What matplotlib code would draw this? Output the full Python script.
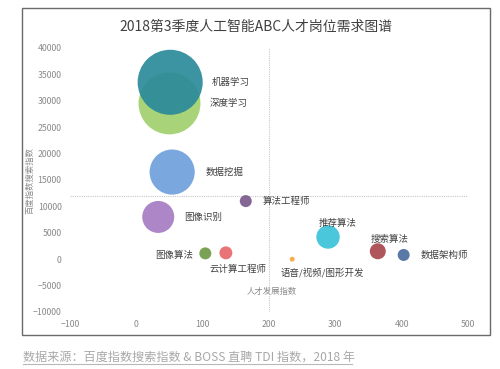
import numpy as np
import matplotlib.pyplot as plt
from matplotlib.patches import Rectangle
from matplotlib.lines import Line2D

plt.rcParams['font.family'] = ['Noto Sans CJK SC', 'DejaVu Sans']

# data
jobs = ["机器学习", "深度学习", "数据挖掘", "图像识别", "算法工程师", "图像算法",
        "云计算工程师", "推荐算法", "搜索算法", "数据架构师", "语音/视频/图形开发"]
talent_idx = [51, 50, 54, 33, 165, 104, 135, 289, 364, 403, 235]
search_idx = [33500, 29500, 16500, 8000, 11000, 1100, 1200, 4200, 1500, 800, 0]
bubble_size = [1060, 960, 510, 256, 36, 36, 42, 137, 64, 36, 6]
colors = ["#2b8a99", "#a2d06c", "#6fa0da", "#a67cc4", "#7a5a8c", "#6f9a47",
          "#e8686b", "#3cc3d8", "#a8474e", "#4d6ea0", "#f5a73a"]
draw_order = [1, 0, 2, 3, 4, 5, 6, 7, 8, 9, 10]

xticks = [-100, 0, 100, 200, 300, 400, 500]
yticks = [-10000, -5000, 0, 5000, 10000, 15000, 20000, 25000, 30000, 35000, 40000]
x_cross = 200
y_cross = 12000

fig = plt.figure(figsize=(5, 3.69), dpi=100)
ax = fig.add_axes([0.14, 0.1545, 0.796, 0.7155])

for i in draw_order:
    ax.scatter(talent_idx[i], search_idx[i], s=bubble_size[i] * 2.07,
               color=colors[i], alpha=0.92, edgecolors="none", zorder=3)

# crossing axes drawn as dotted lines
ax.plot([x_cross, x_cross], [yticks[0], yticks[-1]], ls=(0, (1, 1)), color="#c8c8c8", lw=0.8, zorder=1)
ax.plot([xticks[0], xticks[-1]], [y_cross, y_cross], ls=(0, (1, 1)), color="#c8c8c8", lw=0.8, zorder=1)

ax.set_xlim(xticks[0], xticks[-1])
ax.set_ylim(yticks[0], yticks[-1])
ax.set_xticks(xticks)
ax.set_yticks(yticks)
ax.tick_params(length=0, labelsize=6.3, labelcolor="#8a8a8a", pad=6)
for s in ax.spines.values():
    s.set_visible(False)

# bubble labels
lab = dict(fontsize=6.8, color="#404040", va="center", zorder=4)
ax.text(114, 33500, jobs[0], ha="left", **lab)
ax.text(111, 29500, jobs[1], ha="left", **lab)
ax.text(104, 16500, jobs[2], ha="left", **lab)
ax.text(72, 8000, jobs[3], ha="left", **lab)
ax.text(191, 11000, jobs[4], ha="left", **lab)
ax.text(86, 800, jobs[5], ha="right", **lab)
ax.text(111, -1900, jobs[6], ha="left", **lab)
ax.text(304, 6800, jobs[7], ha="center", **lab)
ax.text(382, 3800, jobs[8], ha="center", **lab)
ax.text(429, 760, jobs[9], ha="left", **lab)
ax.text(218, -2450, jobs[10], ha="left", **lab)

fig.text(0.544, 0.211, "人才发展指数", fontsize=6, color="#8a8a8a", ha="center", va="center")
fig.text(0.059, 0.512, "百度指数搜索指数", fontsize=6, color="#8a8a8a", ha="center", va="center",
         rotation=90)

fig.text(0.512, 0.927, "2018第3季度人工智能ABC人才岗位需求图谱", fontsize=10, color="#404040",
         ha="center", va="center")

# outer frame
fig.patches.append(Rectangle((0.044, 0.092), 0.936, 0.886, transform=fig.transFigure,
                             fill=False, edgecolor="#6a6a6a", lw=1.0))

# source note, underlined
fig.text(0.046, 0.033, "数据来源：百度指数搜索指数 & BOSS 直聘 TDI 指数，2018 年",
         fontsize=8.7, color="#a8a8a8", style="italic", ha="left", va="center")
fig.lines.append(Line2D([0.046, 0.704], [0.014, 0.014], transform=fig.transFigure,
                        color="#b8b8b8", lw=0.8))

fig.savefig("out.png", dpi=100)
